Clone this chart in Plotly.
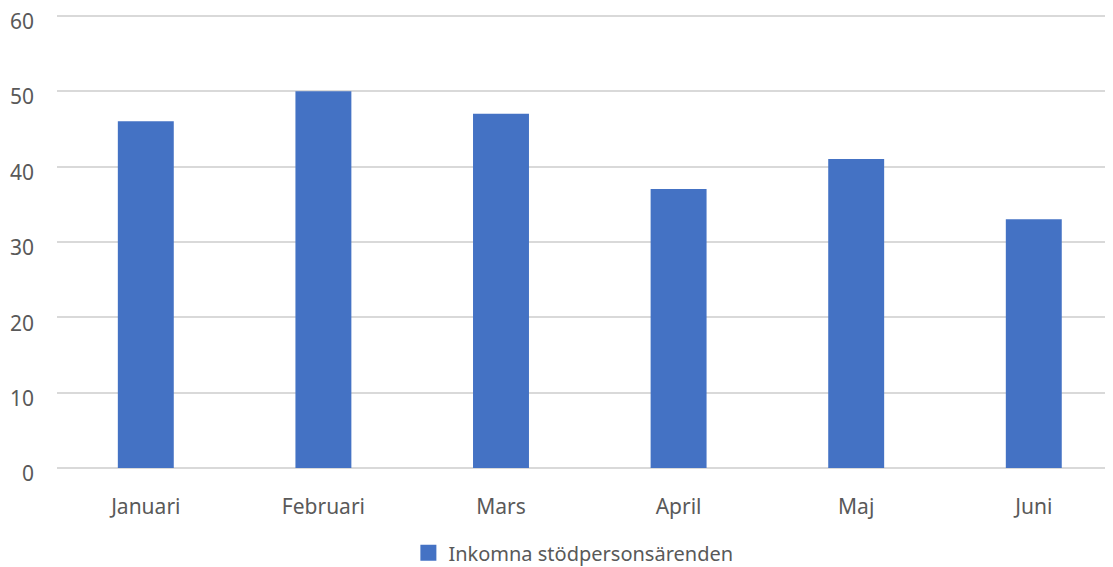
import plotly.graph_objects as go

months = ["Januari", "Februari", "Mars", "April", "Maj", "Juni"]
values = [46, 50, 47, 37, 41, 33]
series_name = "Inkomna stödpersonsärenden"
bar_color = "#4472C4"

fig = go.Figure()
fig.add_trace(go.Bar(x=months, y=values, name=series_name, marker_color=bar_color,
                     marker_line_width=0, showlegend=False))
# legend entry with a larger square swatch
fig.add_trace(go.Scatter(x=[None], y=[None], mode="markers", name=series_name,
                         marker=dict(symbol="square", size=16, color=bar_color)))

font_color = "#595959"
fig.update_layout(
    width=1105, height=559,
    margin=dict(l=49, r=0, t=4, b=99, autoexpand=False),
    paper_bgcolor="white", plot_bgcolor="white",
    font=dict(family="Noto Sans, Open Sans, sans-serif", size=21, color=font_color),
    bargap=0.685,
    showlegend=True,
    legend=dict(orientation="h", x=0.489, xanchor="center", y=-0.186, yanchor="middle",
                font=dict(size=20, color=font_color), itemwidth=30),
    xaxis=dict(range=[-0.5, 5.446], showgrid=False, showline=False, ticks="",
               ticklabelstandoff=24, automargin=False),
    yaxis=dict(range=[0, 60.5], dtick=10, showgrid=True, gridcolor="#d9d9d9", gridwidth=2,
               zeroline=True, zerolinecolor="#d9d9d9", zerolinewidth=2,
               showline=False, ticks="", ticklabelstandoff=22, ticklabelshift=6,
               automargin=False, ticklabeloverflow="allow"),
)
fig.write_html("out.html")
